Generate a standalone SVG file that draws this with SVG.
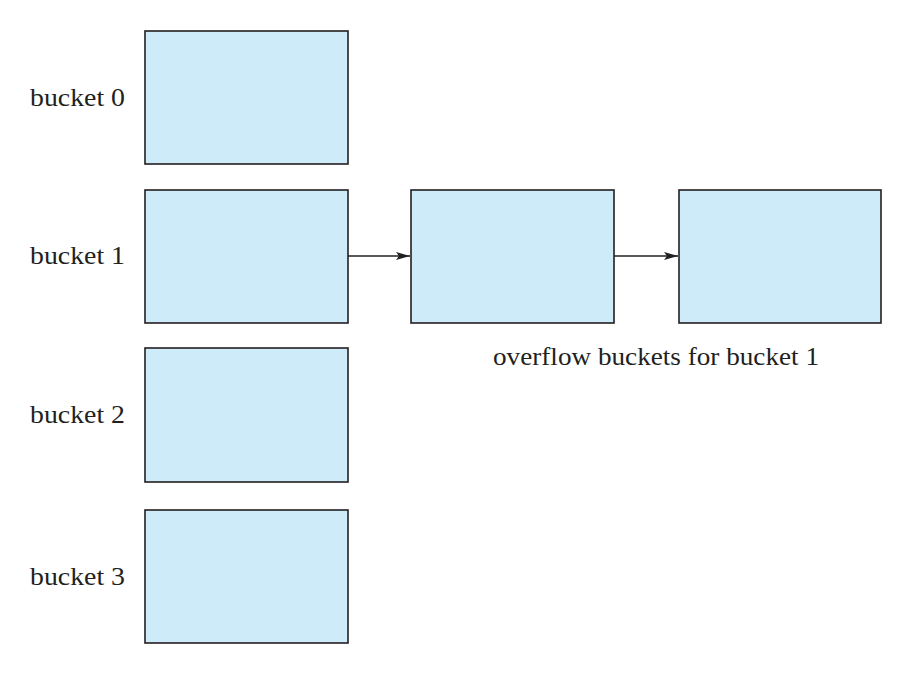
<svg xmlns="http://www.w3.org/2000/svg" width="913" height="675" viewBox="0 0 913 675">
<style>
.b{fill:#cdebf9;stroke:#231f20;stroke-width:1.6}
.t{font-family:"Liberation Serif","Times New Roman",serif;font-size:26px;fill:#231f20}
.c{stroke:#231f20;stroke-width:1.3;fill:none}
</style>
<defs>
<marker id="a" viewBox="0 0 14 8" refX="14" refY="4" markerWidth="14" markerHeight="8" markerUnits="userSpaceOnUse" orient="auto">
<path d="M0,0 L14,4 L0,8 L3,4 Z" fill="#231f20"/>
</marker>
</defs>
<rect width="913" height="675" fill="#fff"/>
<g id="bucket0"><rect class="b" x="145" y="31" width="203" height="133"/><text class="t" x="30" y="106" textLength="95" lengthAdjust="spacingAndGlyphs">bucket 0</text></g>
<g id="bucket1"><rect class="b" x="145" y="190" width="203" height="133"/><text class="t" x="30" y="264" textLength="95" lengthAdjust="spacingAndGlyphs">bucket 1</text></g>
<g id="bucket2"><rect class="b" x="145" y="348" width="203" height="134"/><text class="t" x="30" y="423" textLength="95" lengthAdjust="spacingAndGlyphs">bucket 2</text></g>
<g id="bucket3"><rect class="b" x="145" y="510" width="203" height="133"/><text class="t" x="30" y="585" textLength="95" lengthAdjust="spacingAndGlyphs">bucket 3</text></g>
<g id="overflow1"><rect class="b" x="411" y="190" width="203" height="133"/></g>
<g id="overflow2"><rect class="b" x="679" y="190" width="202" height="133"/></g>
<g id="label"><text class="t" x="493" y="365" textLength="326" lengthAdjust="spacingAndGlyphs">overflow buckets for bucket 1</text></g>
<g id="connectors">
<line class="c" x1="348" y1="256" x2="410" y2="256" marker-end="url(#a)"/>
<line class="c" x1="614" y1="256" x2="678" y2="256" marker-end="url(#a)"/>
</g>
</svg>
